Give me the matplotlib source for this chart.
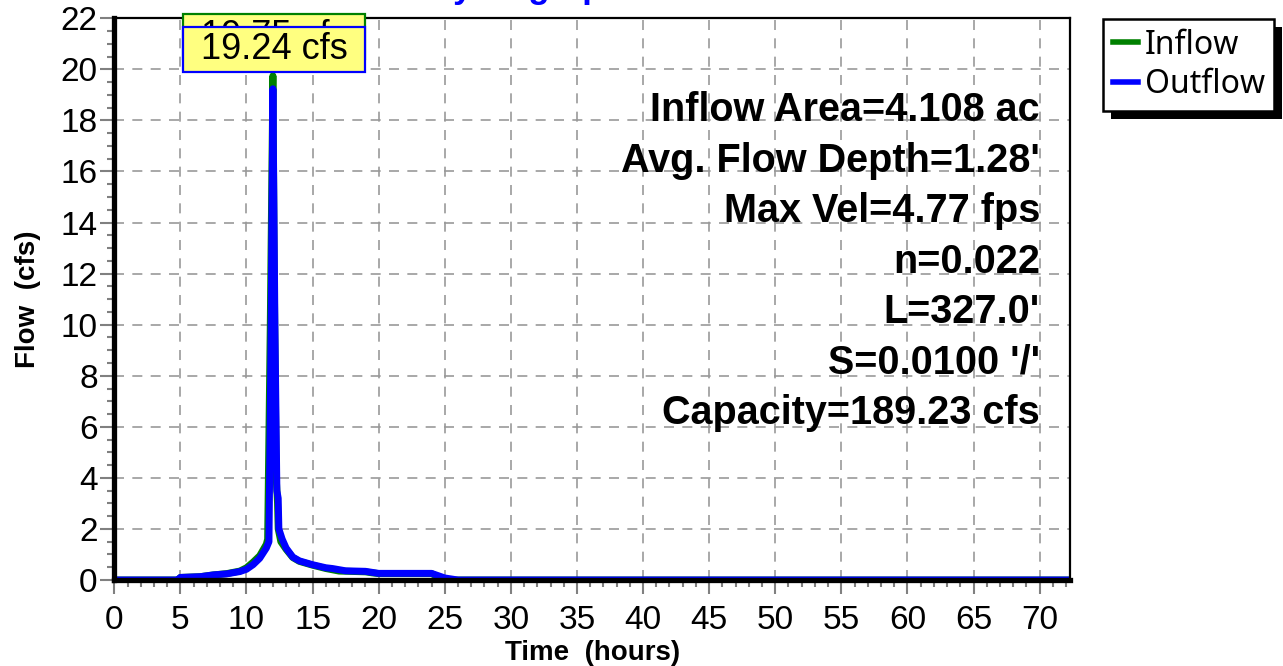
import matplotlib
matplotlib.use('Agg')
import matplotlib.pyplot as plt
from matplotlib.patches import Rectangle
from matplotlib.ticker import MultipleLocator

plt.rcParams['font.family'] = ['Liberation Sans', 'DejaVu Sans']

# hydrograph values (hours, cfs)
inflow_t = [0, 4.8, 5.0, 6.5, 7.5, 8.5, 9.5, 10.0, 10.5, 11.0, 11.5, 11.6, 11.8, 12.0, 12.1,
            12.25, 12.35, 12.4, 12.6, 13.0, 13.5, 14.0, 15.0, 16.0, 17.0, 19.0, 19.5,
            20.0, 24.0, 24.8, 25.5, 72.3]
inflow_q = [0, 0, 0.1, 0.13, 0.2, 0.25, 0.35, 0.48, 0.7, 0.95, 1.4, 1.6, 10.0, 19.75, 12.0,
            4.0, 3.0, 2.0, 1.5, 1.2, 0.88, 0.73, 0.58, 0.45, 0.35, 0.32, 0.28,
            0.25, 0.25, 0.05, 0, 0]

outflow_t = [0, 4.8, 5.0, 6.5, 7.5, 8.5, 9.5, 10.0, 10.5, 11.0, 11.5, 11.7, 11.85, 12.0, 12.15,
             12.3, 12.4, 12.45, 12.7, 13.0, 13.5, 14.0, 15.0, 16.0, 16.5, 17.5, 19.0,
             19.5, 20.0, 24.0, 25.0, 26.0, 72.3]
outflow_q = [0, 0, 0.1, 0.13, 0.2, 0.24, 0.33, 0.42, 0.6, 0.85, 1.25, 1.5, 9.0, 19.24, 10.0,
             3.5, 3.2, 2.0, 1.6, 1.25, 0.9, 0.75, 0.6, 0.48, 0.45, 0.36, 0.34,
             0.3, 0.26, 0.26, 0.08, 0, 0]

peak_labels = ['19.75 cfs', '19.24 cfs']
info_lines = ['Inflow Area=4.108 ac', "Avg. Flow Depth=1.28'", 'Max Vel=4.77 fps',
              'n=0.022', "L=327.0'", "S=0.0100 '/'", 'Capacity=189.23 cfs']

fig = plt.figure(figsize=(12.83, 6.66), dpi=100)
ax = fig.add_axes([114.3 / 1283, 1 - 580 / 666, (1070 - 114.3) / 1283, (580 - 18.3) / 666])

ax.plot(inflow_t, inflow_q, color='#008000', lw=5, label='Inflow', solid_joinstyle='round')
ax.plot(outflow_t, outflow_q, color='#0000FF', lw=5, label='Outflow', solid_joinstyle='round')

ax.set_xlim(0, 72.3)
ax.set_ylim(0, 22)
ax.xaxis.set_major_locator(MultipleLocator(5))
ax.xaxis.set_minor_locator(MultipleLocator(1))
ax.yaxis.set_major_locator(MultipleLocator(2))
ax.yaxis.set_minor_locator(MultipleLocator(0.5))
ax.tick_params(which='both', direction='out', color='#808080', width=1.5, labelsize=24)
ax.tick_params(which='major', length=10)
ax.tick_params(which='minor', length=5)
ax.tick_params(axis='x', pad=8)
ax.tick_params(axis='y', pad=2)
ax.grid(True, which='major', color='#999999', linestyle=(0, (6, 5)), linewidth=1.2)
ax.set_axisbelow('line')

for side in ['left', 'bottom']:
    ax.spines[side].set_linewidth(3.8)
for side in ['top', 'right']:
    ax.spines[side].set_linewidth(1.6)

ax.set_xlabel('Time  (hours)', fontsize=20, fontweight='bold', labelpad=3)
ax.set_ylabel('Flow  (cfs)', fontsize=20, fontweight='bold', labelpad=14)

# peak flow boxes (inflow behind, outflow in front)
px = 25.53
box_w = 13.8
box_h = 45 / px
z = 5
for tt, qq, lab, col, top in [(inflow_t, inflow_q, peak_labels[0], '#008000', 22.17),
                             (outflow_t, outflow_q, peak_labels[1], '#0000FF', 21.66)]:
    tpk = tt[qq.index(max(qq))] + 0.08
    ax.add_patch(Rectangle((tpk - box_w / 2, top - box_h), box_w, box_h, facecolor='#FFFF80',
                           edgecolor=col, linewidth=1.6, clip_on=False, zorder=z))
    ax.text(tpk, top - box_h / 2, lab, ha='center', va='center', fontsize=26,
            clip_on=False, zorder=z + 1)
    z += 2

for i, line in enumerate(info_lines):
    ax.text(0.9686, (580 - (110 + 50.5 * i)) / 562, line, transform=ax.transAxes,
            ha='right', va='center', fontsize=28.5, fontweight='bold')

fig.text(527 / 1283, 1 + 2 / 666, 'Hydrograph', ha='center', va='baseline', color='#0000FF',
         fontsize=25, fontweight='bold')

leg = fig.legend(loc='upper left', bbox_to_anchor=(1103 / 1283, 1 - 19 / 666), borderaxespad=0,
                 fancybox=False, framealpha=1, edgecolor='black', handlelength=0.8,
                 handletextpad=0.2, borderpad=0.3, labelspacing=0.2,
                 prop={'family': 'Noto Sans', 'size': 23})
leg.get_frame().set_linewidth(1.8)
for h in leg.get_lines():
    h.set_linewidth(4)

fig.canvas.draw()
bb = leg.get_window_extent()
inv = fig.transFigure.inverted()
(x0, y0), (x1, y1) = inv.transform([(bb.x0 + 8, bb.y0 - 8), (bb.x1 + 8, bb.y1 - 8)])
fig.patches.append(Rectangle((x0, y0), x1 - x0, y1 - y0, transform=fig.transFigure,
                             facecolor='black', edgecolor='none', zorder=4))

fig.savefig('out.png', dpi=100)
